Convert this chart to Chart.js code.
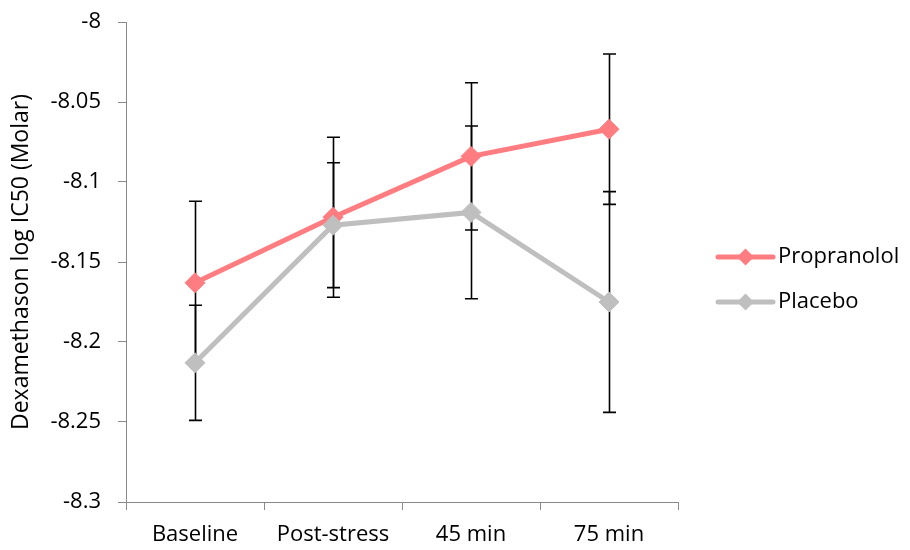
<!DOCTYPE html>
<html>
<head>
<meta charset="utf-8">
<script src="https://cdn.jsdelivr.net/npm/chart.js@4.4.1/dist/chart.umd.min.js"></script>
<style>
  html, body { margin: 0; padding: 0; background: #fff; }
  #wrap { width: 910px; height: 550px; }
</style>
</head>
<body>
<div id="wrap"><canvas id="ic50Chart"></canvas></div>
<script>
// ─── data ───
const categories = ['Baseline', 'Post-stress', '45 min', '75 min'];
const propranolol = [-8.163, -8.122, -8.084, -8.067];
const propranololErr = [0.051, 0.050, 0.046, 0.047];
const placebo = [-8.213, -8.127, -8.119, -8.175];
const placeboErr = [0.036, 0.039, 0.054, 0.069];
const yTicks = [-8.3, -8.25, -8.2, -8.15, -8.1, -8.05, -8];

const FONT = "'Open Sans', 'Noto Sans', sans-serif";
const AXIS_GREY = '#898989';

// ─── error bars, drawn under the lines ───
const errorBars = {
    id: 'errorBars',
    beforeDatasetsDraw(chart) {
        const { ctx } = chart;
        const yScale = chart.scales.y;
        ctx.save();
        ctx.strokeStyle = '#000';
        ctx.lineWidth = 1.6;
        chart.data.datasets.forEach((ds, i) => {
            const meta = chart.getDatasetMeta(i);
            meta.data.forEach((pt, j) => {
                const v = ds.data[j], e = ds.errors[j];
                const yTop = yScale.getPixelForValue(v + e);
                const yBot = yScale.getPixelForValue(v - e);
                const x = Math.round(pt.x) + 0.5;
                ctx.beginPath();
                ctx.moveTo(x, yTop);
                ctx.lineTo(x, yBot);
                ctx.moveTo(x - 6.5, yTop);
                ctx.lineTo(x + 6.5, yTop);
                ctx.moveTo(x - 6.5, yBot);
                ctx.lineTo(x + 6.5, yBot);
                ctx.stroke();
            });
        });
        ctx.restore();
    }
};

// ─── legend on the right (line + diamond + text) ───
const sideLegend = {
    id: 'sideLegend',
    afterDraw(chart) {
        const { ctx, chartArea } = chart;
        const x0 = chartArea.right + 40;
        const rows = [0, 1];
        ctx.save();
        rows.forEach((i, k) => {
            const ds = chart.data.datasets[i];
            const y = 257 + k * 45;
            ctx.strokeStyle = ds.borderColor;
            ctx.lineWidth = 5;
            ctx.lineCap = 'round';
            ctx.beginPath();
            ctx.moveTo(x0, y);
            ctx.lineTo(x0 + 55, y);
            ctx.stroke();
            const cx = x0 + 27.5, r = 8.5;
            ctx.fillStyle = ds.borderColor;
            ctx.beginPath();
            ctx.moveTo(cx, y - r);
            ctx.lineTo(cx + r, y);
            ctx.lineTo(cx, y + r);
            ctx.lineTo(cx - r, y);
            ctx.closePath();
            ctx.fill();
            ctx.fillStyle = '#000';
            ctx.font = `22px ${FONT}`;
            ctx.textBaseline = 'middle';
            ctx.fillText(ds.label, x0 + 60, y);
        });
        ctx.restore();
    }
};

new Chart(document.getElementById('ic50Chart'), {
    type: 'line',
    data: {
        labels: categories,
        datasets: [
            {
                label: 'Propranolol',
                data: propranolol,
                errors: propranololErr,
                borderColor: '#FF7C80',
                backgroundColor: '#FF7C80',
                borderWidth: 5,
                pointStyle: 'rectRot',
                pointRadius: 10,
                pointBorderWidth: 1,
                order: 1,
            },
            {
                label: 'Placebo',
                data: placebo,
                errors: placeboErr,
                borderColor: '#BFBFBF',
                backgroundColor: '#BFBFBF',
                borderWidth: 5,
                pointStyle: 'rectRot',
                pointRadius: 10,
                pointBorderWidth: 1,
                order: 0,
            }
        ]
    },
    options: {
        responsive: true,
        maintainAspectRatio: false,
        animation: false,
        layout: { padding: { left: 4, top: 22, right: 232, bottom: 0 } },
        plugins: {
            legend: { display: false },
            tooltip: { enabled: false },
        },
        scales: {
            x: {
                offset: true,
                afterFit(scale) { scale.height = 48; },
                grid: {
                    offset: true,
                    drawOnChartArea: false,
                    drawTicks: true,
                    tickLength: 8,
                    color: AXIS_GREY,
                },
                border: { color: AXIS_GREY, width: 1 },
                ticks: {
                    color: '#000',
                    padding: 12,
                    maxRotation: 0,
                    font: { family: FONT, size: 22 },
                },
            },
            y: {
                min: -8.3,
                max: -8,
                afterFit(scale) {
                    scale.width = 122;
                    scale.paddingTop = 0;
                    scale.paddingBottom = 0;
                },
                afterBuildTicks(scale) { scale.ticks = yTicks.map(v => ({ value: v })); },
                grid: {
                    drawOnChartArea: false,
                    drawTicks: true,
                    tickLength: 8,
                    color: AXIS_GREY,
                },
                border: { color: AXIS_GREY, width: 1 },
                ticks: {
                    color: '#000',
                    padding: 17,
                    font: { family: FONT, size: 22 },
                    callback: v => String(v),
                },
                title: {
                    display: true,
                    text: 'Dexamethason log IC50 (Molar)',
                    color: '#000',
                    padding: { top: 4, bottom: 4 },
                    font: { family: FONT, size: 23 },
                },
            },
        },
    },
    plugins: [errorBars, sideLegend],
});
</script>
</body>
</html>
